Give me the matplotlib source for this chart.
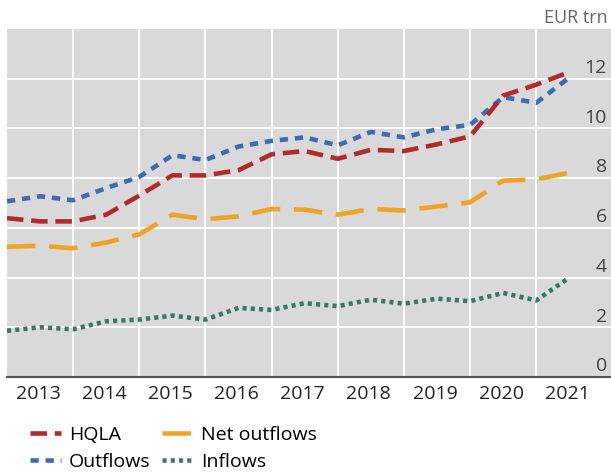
import numpy as np
import matplotlib
matplotlib.use("Agg")
import matplotlib.pyplot as plt
import matplotlib.transforms as mtransforms

plt.rcParams['font.family'] = ['Open Sans', 'DejaVu Sans']

# half-year observations, 2013 to mid-2021
periods = np.arange(2013.0, 2021.51, 0.5)
years = [2013, 2014, 2015, 2016, 2017, 2018, 2019, 2020, 2021]

hqla = [6.39, 6.26, 6.26, 6.53, 7.30, 8.11, 8.11, 8.32, 8.96, 9.09,
        8.78, 9.14, 9.09, 9.36, 9.68, 11.32, 11.76, 12.27]
outflows = [7.07, 7.27, 7.11, 7.60, 8.05, 8.92, 8.73, 9.27, 9.50, 9.64,
            9.32, 9.86, 9.64, 9.97, 10.14, 11.26, 11.03, 12.05]
net_outflows = [5.24, 5.28, 5.18, 5.41, 5.74, 6.53, 6.35, 6.46, 6.76, 6.73,
                6.53, 6.76, 6.70, 6.86, 7.03, 7.90, 7.95, 8.22]
inflows = [1.86, 2.00, 1.92, 2.24, 2.31, 2.47, 2.31, 2.78, 2.70, 2.97,
           2.85, 3.11, 2.95, 3.15, 3.05, 3.38, 3.08, 4.00]

fig = plt.figure(figsize=(6.11, 4.75), dpi=100)
ax = fig.add_axes([7 / 611, 1 - 377 / 475, 1 - 7 / 611, (377 - 29) / 475])
ax.set_facecolor('#d9d9d9')

lw = 3.3
l_out, = ax.plot(periods, outflows, color='#3a6db4', lw=lw, dashes=(1.8, 1.5))
l_hq, = ax.plot(periods, hqla, color='#b22b2b', lw=lw, dashes=(3.6, 1.7))
l_net, = ax.plot(periods, net_outflows, color='#eea424', lw=lw, dashes=(6.2, 3.0))
l_in, = ax.plot(periods, inflows, color='#367a66', lw=lw, dashes=(0.9, 0.9))

ax.set_xlim(2013.0, 2022.13)
ax.set_ylim(0, 14)

# year boundaries as gridlines, labels in the middle of each year
ax.set_xticks(years[1:])
ax.set_xticklabels([])
ax.set_xticks([y + 0.47 for y in years], minor=True)
ax.set_xticklabels([str(y) for y in years], minor=True)
ax.tick_params(axis='x', which='both', length=0)
ax.tick_params(axis='x', which='minor', labelsize=14, colors='#222222', pad=6)

yt = [0, 2, 4, 6, 8, 10, 12]
ax.set_yticks(yt)
ax.set_yticklabels([])
ax.tick_params(axis='y', length=0)
ax.grid(True, color='white', lw=1.3)
ax.set_axisbelow(True)

trans = mtransforms.blended_transform_factory(fig.transFigure, ax.transData)
trans = mtransforms.offset_copy(trans, fig=fig, y=1.2, units='points')
for v in yt:
    ax.text(607 / 611, v, str(v), transform=trans, ha='right', va='bottom',
            fontsize=14, color='#444444')

for s in ['top', 'left', 'right']:
    ax.spines[s].set_visible(False)
ax.spines['bottom'].set_color('#555555')
ax.spines['bottom'].set_linewidth(1.5)

fig.text(608 / 611, 1 - 18 / 475, 'EUR trn', ha='right', va='center',
         fontsize=13, color='#666666')

fig.legend([l_hq, l_out, l_net, l_in], ['HQLA', 'Outflows', 'Net outflows', 'Inflows'],
           ncol=2, frameon=False, fontsize=14, loc='upper left',
           bbox_to_anchor=(30 / 611, 1 - 426 / 475), handlelength=1.6,
           handletextpad=0.4, columnspacing=0.6, labelspacing=0.45,
           borderaxespad=0, borderpad=0)

fig.savefig('out.png', dpi=100)
